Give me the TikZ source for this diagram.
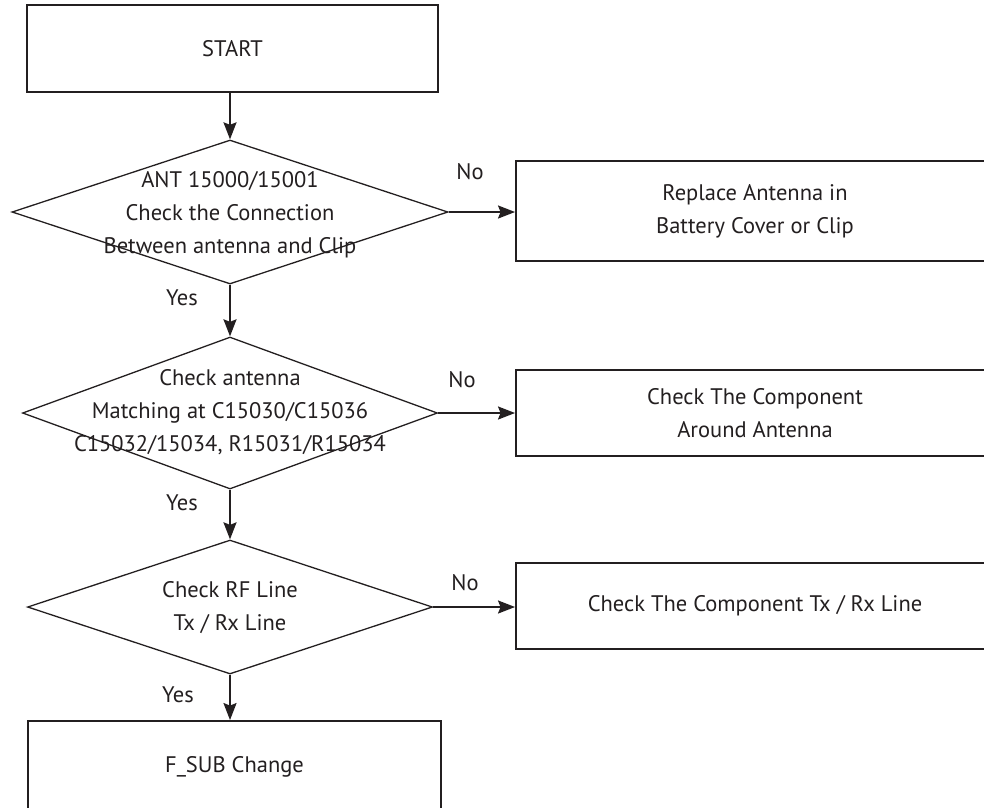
\documentclass[tikz,border=0pt]{standalone}
\usepackage{fontspec}
\setmainfont{PT Sans}
\usetikzlibrary{shapes.geometric,arrows.meta}
\definecolor{ink}{HTML}{231F20}
\begin{document}
\begin{tikzpicture}[x=1pt,y=-1pt,
  box/.style={draw=ink,line width=1.9pt,rectangle,inner sep=0pt,align=center,text=ink,font=\fontsize{22.5}{33}\selectfont},
  dia/.style={draw=ink,line width=1.3pt,diamond,inner sep=0pt},
  lbl/.style={text=ink,font=\fontsize{22.5}{33}\selectfont,align=center,inner sep=0pt},
  arr/.style={draw=ink,line width=1.9pt,-{Stealth[length=17pt,width=13pt,inset=2.5pt]}},
]
\useasboundingbox (0,0) rectangle (984,807);
\clip (0,0) rectangle (984,807);

% start
\node[box,minimum width=411pt,minimum height=87pt] (start) at (232.5,48.5) {START};

% decision 1
\node[dia,minimum width=436pt,minimum height=144pt] (d1) at (230,212) {};
\node[lbl] (d1t) at (230,215) {ANT 15000/15001\\Check the Connection\\Between antenna and Clip};
\node[box,minimum width=478pt,minimum height=100pt] (b1) at (755,211) {Replace Antenna in\\Battery Cover or Clip};

% decision 2
\node[dia,minimum width=415pt,minimum height=152pt] (d2) at (230,413) {};
\node[lbl] (d2t) at (230,412) {Check antenna\\Matching at C15030/C15036\\C15032/15034, R15031/R15034};
\node[box,minimum width=478pt,minimum height=86pt] (b2) at (755,413) {Check The Component\\Around Antenna};

% decision 3
\node[dia,minimum width=405pt,minimum height=134pt] (d3) at (230,607) {};
\node[lbl] (d3t) at (230,607.5) {Check RF Line\\Tx / Rx Line};
\node[box,minimum width=478pt,minimum height=86pt] (b3) at (755,606) {Check The Component Tx / Rx Line};

% end
\node[box,minimum width=413pt,minimum height=92pt] (fsub) at (234.5,767) {F\_SUB Change};

% connectors
\draw[arr] (d1.north |- start.south) -- (d1.north);
\draw[arr] (d1.east) -- (b1.west |- d1.east);
\draw[arr] (d1.south) -- (d2.north);
\draw[arr] (d2.east) -- (b2.west |- d2.east);
\draw[arr] (d2.south) -- (d3.north);
\draw[arr] (d3.east) -- (b3.west |- d3.east);
\draw[arr] (d3.south) -- (d3.south |- fsub.north);

% labels
\node[lbl] (no1) at (470,172) {No};
\node[lbl] (no2) at (462,380) {No};
\node[lbl] (no3) at (465,583) {No};
\node[lbl] (yes1) at (182,298) {Yes};
\node[lbl] (yes2) at (182,503) {Yes};
\node[lbl] (yes3) at (178,695) {Yes};
\end{tikzpicture}
\end{document}
